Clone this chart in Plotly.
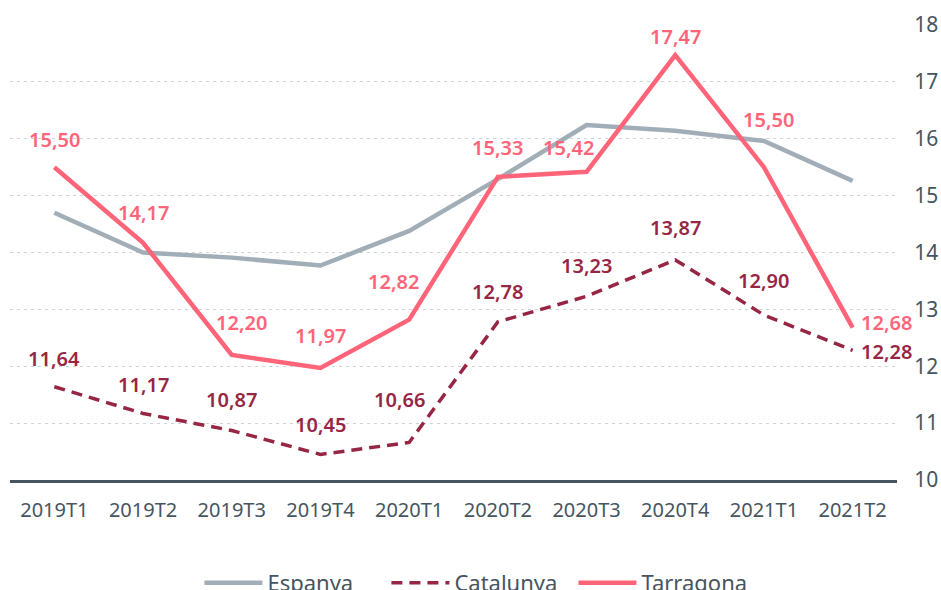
import plotly.graph_objects as go

categories = ["2019T1", "2019T2", "2019T3", "2019T4", "2020T1", "2020T2",
              "2020T3", "2020T4", "2021T1", "2021T2"]
espanya = [14.70, 14.00, 13.91, 13.77, 14.38, 15.29, 16.24, 16.14, 15.96, 15.26]
catalunya = [11.64, 11.17, 10.87, 10.45, 10.66, 12.78, 13.23, 13.87, 12.90, 12.28]
tarragona = [15.50, 14.17, 12.20, 11.97, 12.82, 15.33, 15.42, 17.47, 15.50, 12.68]
y_ticks = [10, 11, 12, 13, 14, 15, 16, 17, 18]

# label offsets in pixels (xshift, yshift) - styling only
tar_offsets = [(0, 28), (0, 30), (10, 32), (0, 32), (-16, 38),
               (0, 29), (-18, 24), (0, 19), (5, 48), (34, 5)]
cat_offsets = [(0, 28), (0, 29), (0, 31), (0, 30), (-10, 43),
               (0, 30), (0, 31), (0, 32), (0, 35), (34, -1)]

C_ESP = "#a2aeb7"
C_CAT = "#962644"
C_TAR = "#ff6479"
C_AXIS = "#46555f"
FONT = "Noto Sans"

fig = go.Figure()
fig.add_trace(go.Scatter(x=categories, y=espanya, name="Espanya", mode="lines",
                         line=dict(color=C_ESP, width=4.5), hoverinfo="skip"))
fig.add_trace(go.Scatter(x=categories, y=catalunya, name="Catalunya", mode="lines",
                         line=dict(color=C_CAT, width=3.5, dash="11px,7px"), hoverinfo="skip"))
fig.add_trace(go.Scatter(x=categories, y=tarragona, name="Tarragona", mode="lines",
                         line=dict(color=C_TAR, width=4.5), hoverinfo="skip"))

def fmt(v):
    return f"{v:.2f}".replace(".", ",")

annotations = []
for c, v, (dx, dy) in zip(categories, tarragona, tar_offsets):
    annotations.append(dict(x=c, y=v, text=fmt(v), showarrow=False,
                            xshift=dx, yshift=dy,
                            font=dict(color=C_TAR, size=20, family=FONT, weight=600)))
for c, v, (dx, dy) in zip(categories, catalunya, cat_offsets):
    annotations.append(dict(x=c, y=v, text=fmt(v), showarrow=False,
                            xshift=dx, yshift=dy,
                            font=dict(color=C_CAT, size=20, family=FONT, weight=600)))

n = len(categories)
fig.update_layout(
    width=941, height=590,
    margin=dict(l=10, r=44, t=25, b=110),
    paper_bgcolor="white", plot_bgcolor="white",
    separators=",.",
    font=dict(family=FONT, color=C_AXIS),
    annotations=annotations,
    showlegend=True,
    legend=dict(orientation="h", xref="container", yref="container",
                x=0.51, xanchor="center", y=0.012, yanchor="middle",
                font=dict(size=22, color=C_AXIS, family=FONT),
                itemwidth=58, entrywidth=114, entrywidthmode="pixels",
                traceorder="normal"),
    xaxis=dict(type="category", range=[-0.5, n - 0.5], showgrid=False,
               showline=True, linecolor=C_AXIS, linewidth=3, automargin=False,
               tickfont=dict(size=20, color=C_AXIS, family=FONT),
               ticks="outside", ticklen=10, tickcolor="rgba(0,0,0,0)"),
    yaxis=dict(side="right", range=[10, 18], tickvals=y_ticks, automargin=False,
               showgrid=True, gridcolor="#cdd4d9", griddash="3px,4px", gridwidth=1.2,
               zeroline=False, showline=False,
               tickfont=dict(size=21, color=C_AXIS, family=FONT),
               ticks="outside", ticklen=12, tickcolor="rgba(0,0,0,0)"),
)

fig.write_html("out.html", config={"displayModeBar": False},
               post_script="document.body.style.margin='0';document.body.style.overflow='hidden';")
